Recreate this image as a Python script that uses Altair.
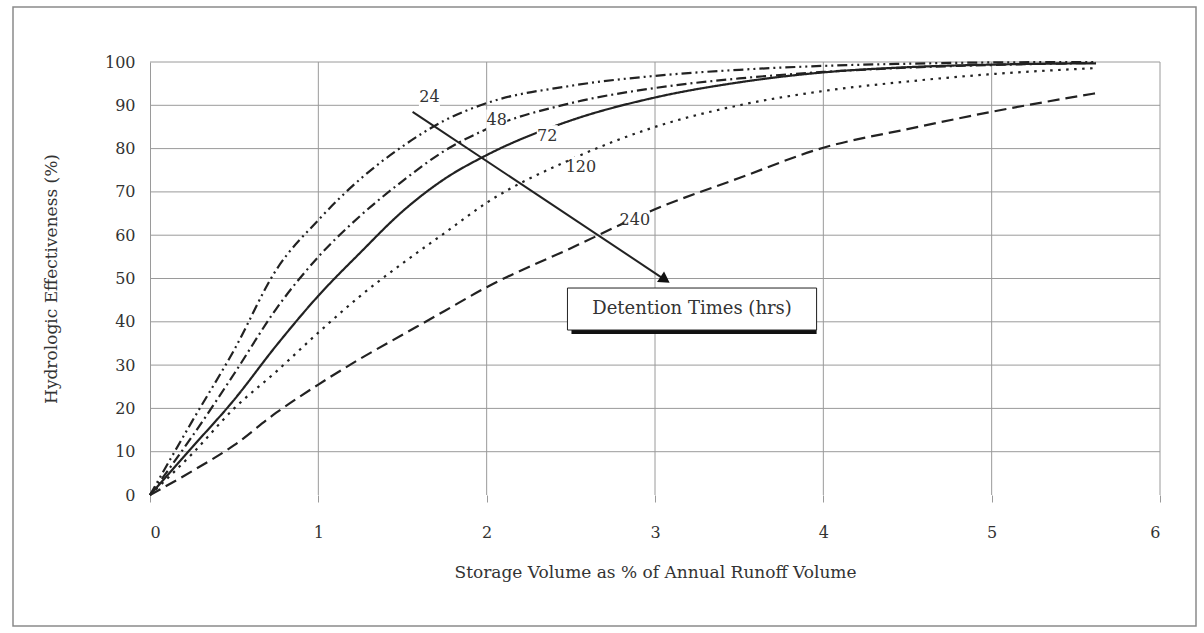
import math
import altair as alt
import pandas as pd

# Storage volume (% of annual runoff) vs hydrologic effectiveness (%) for each detention time
storage = [0, 0.25, 0.5, 0.75, 1.0, 1.25, 1.5, 1.75, 2.0, 2.5, 3.0, 3.5, 4.0, 4.5, 5.0, 5.62]

eff_24 = [0, 17, 33.5, 52, 63.5, 73, 80.5, 86.5, 90.5, 94.5, 96.8, 98.2, 99.1, 99.6, 99.9, 100]
eff_48 = [0, 13.5, 28, 43, 55, 64.5, 72.5, 79.5, 84.5, 90.5, 94, 96.2, 97.7, 98.7, 99.3, 99.8]
eff_72 = [0, 11, 22, 34.5, 46, 56, 65.5, 73, 78.5, 86.5, 91.8, 95.3, 97.6, 98.8, 99.4, 99.7]
eff_120 = [0, 9.5, 20, 28.5, 37.5, 46, 53.5, 60.5, 67.5, 77.5, 85, 90, 93.3, 95.5, 97.2, 98.6]
eff_240 = [0, 5.5, 11.5, 19, 25.5, 31.5, 37, 42.5, 48, 57, 66, 73.2, 80.2, 84.5, 88.5, 92.8]

series_names = ["24", "48", "72", "120", "240"]
series_eff = [eff_24, eff_48, eff_72, eff_120, eff_240]
series_dash = [[10, 4, 2, 4, 2, 4], [10, 4, 2, 4], [1, 0], [2.5, 5.5], [12, 6]]

# Curve labels
label_text = ["24", "48", "72", "120", "240"]
label_x = [1.66, 2.06, 2.36, 2.56, 2.88]
label_y = [91.9, 86.6, 83.0, 75.7, 63.5]

# Arrow pointing towards longer detention times
arrow_x = [1.56, 3.06]
arrow_y = [88.5, 49.7]

# Annotation box
box_x = [2.48, 3.96]
box_y = [38.1, 47.8]
box_text = "Detention Times (hrs)"

x_ticks = [0, 1, 2, 3, 4, 5, 6]
y_ticks = [0, 10, 20, 30, 40, 50, 60, 70, 80, 90, 100]
x_grid = [1, 2, 3, 4, 5, 6]
y_grid = [10, 20, 30, 40, 50, 60, 70, 80, 90, 100]

W, H = 1010, 433
FONT = "DejaVu Serif"
INK = "#333333"
GRID = "#9a9a9a"

rows = []
for name, ys in zip(series_names, series_eff):
    for i, (xv, yv) in enumerate(zip(storage, ys)):
        rows.append({"series": name, "storage": xv, "eff": yv, "order": i})
curves_df = pd.DataFrame(rows)

xs_scale = alt.Scale(domain=[0, 6], nice=False, zero=False)
ys_scale = alt.Scale(domain=[0, 100], nice=False)

x_axis = alt.Axis(values=x_ticks, grid=False, domain=False, tickSize=7, tickColor=GRID,
                  labelPadding=22, labelFont=FONT, labelFontSize=16, labelColor=INK,
                  title="Storage Volume as % of Annual Runoff Volume", titleFont=FONT,
                  titleFontSize=17, titleFontWeight="normal", titleColor=INK, titlePadding=24,
                  format="d")
y_axis = alt.Axis(values=y_ticks, grid=False, domain=True, domainColor=GRID, ticks=False,
                  labelPadding=15, labelFont=FONT, labelFontSize=16, labelColor=INK,
                  title="Hydrologic Effectiveness (%)", titleFont=FONT, titleFontSize=17,
                  titleFontWeight="normal", titleColor=INK, titlePadding=44, format="d")

# Gridlines
vgrid = alt.Chart(pd.DataFrame({"g": x_grid})).mark_rule(color=GRID, strokeWidth=1).encode(
    x=alt.X("g:Q", scale=xs_scale, axis=x_axis)
)
hgrid = alt.Chart(pd.DataFrame({"g": y_grid})).mark_rule(color=GRID, strokeWidth=1).encode(
    y=alt.Y("g:Q", scale=ys_scale, axis=y_axis)
)

curves = alt.Chart(curves_df).mark_line(strokeWidth=2.2, color="#222222", interpolate="monotone").encode(
    x=alt.X("storage:Q", scale=xs_scale),
    y=alt.Y("eff:Q", scale=ys_scale),
    detail="series:N",
    order="order:Q",
    strokeDash=alt.StrokeDash("series:N", scale=alt.Scale(domain=series_names, range=series_dash), legend=None),
)

labels_df = pd.DataFrame({"t": label_text, "x": label_x, "y": label_y})
label_bg = alt.Chart(labels_df).mark_point(shape="square", filled=True, color="white", opacity=1, size=440).encode(
    x=alt.X("x:Q", scale=xs_scale), y=alt.Y("y:Q", scale=ys_scale)
)
labels = alt.Chart(labels_df).mark_text(font=FONT, fontSize=16, color=INK).encode(
    x=alt.X("x:Q", scale=xs_scale), y=alt.Y("y:Q", scale=ys_scale), text="t:N"
)

arrow_df = pd.DataFrame({"x": arrow_x, "y": arrow_y, "o": [0, 1]})
arrow_line = alt.Chart(arrow_df).mark_line(color="#222222", strokeWidth=2).encode(
    x=alt.X("x:Q", scale=xs_scale), y=alt.Y("y:Q", scale=ys_scale), order="o:Q"
)
dx = (arrow_x[1] - arrow_x[0]) * W / 6
dy = (arrow_y[0] - arrow_y[1]) * H / 100
head_angle = 90 + math.degrees(math.atan2(dy, dx))
arrow_head = alt.Chart(arrow_df.iloc[[1]]).mark_point(
    shape="triangle-up", filled=True, color="#111111", opacity=1, size=160, angle=head_angle
).encode(x=alt.X("x:Q", scale=xs_scale), y=alt.Y("y:Q", scale=ys_scale))

box_df = pd.DataFrame({"x": [box_x[0]], "x2": [box_x[1]], "y": [box_y[0]], "y2": [box_y[1]],
                       "cx": [(box_x[0] + box_x[1]) / 2], "cy": [(box_y[0] + box_y[1]) / 2],
                       "t": [box_text]})
box_shadow = alt.Chart(box_df).mark_rect(color="#111111", xOffset=4, yOffset=4).encode(
    x=alt.X("x:Q", scale=xs_scale), x2="x2:Q", y=alt.Y("y:Q", scale=ys_scale), y2="y2:Q"
)
box = alt.Chart(box_df).mark_rect(fill="white", stroke="#222222", strokeWidth=1).encode(
    x=alt.X("x:Q", scale=xs_scale), x2="x2:Q", y=alt.Y("y:Q", scale=ys_scale), y2="y2:Q"
)
box_label = alt.Chart(box_df).mark_text(font=FONT, fontSize=18, color=INK).encode(
    x=alt.X("cx:Q", scale=xs_scale), y=alt.Y("cy:Q", scale=ys_scale), text="t:N"
)

# Outer frame around the whole figure
frame = alt.Chart(pd.DataFrame({"a": [0]})).mark_rect(fill=None, stroke="#8a8a8a", strokeWidth=1.5).encode(
    x=alt.value(-137), x2=alt.value(1046), y=alt.value(-55), y2=alt.value(564)
)

chart = alt.layer(
    frame, vgrid, hgrid, curves, label_bg, labels, arrow_line, arrow_head, box_shadow, box, box_label
).properties(
    width=W, height=H,
    autosize=alt.AutoSizeParams(type="none"),
    padding={"left": 150, "top": 62, "right": 44, "bottom": 138},
    background="white",
).configure_view(stroke=None)

chart.save("out.html", embed_options={"renderer": "svg", "actions": False})
